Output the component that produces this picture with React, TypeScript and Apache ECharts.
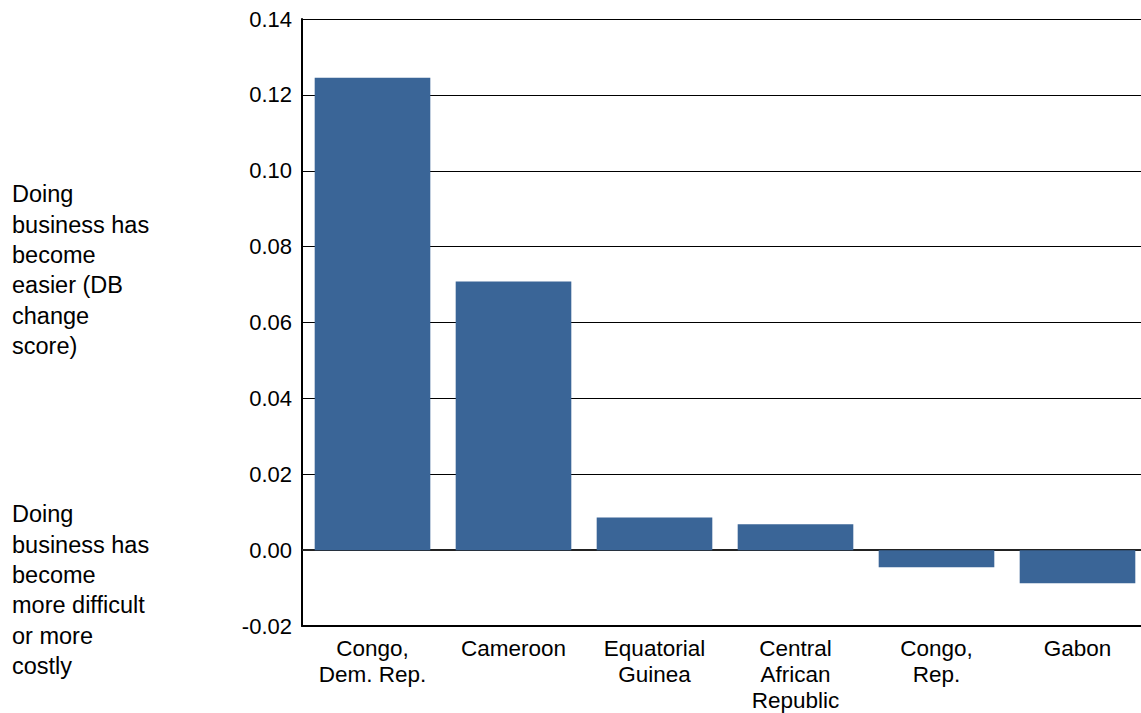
import React, { useEffect, useRef } from "react";
import * as echarts from "echarts";

const categories = [
  "Congo,\nDem. Rep.",
  "Cameroon",
  "Equatorial\nGuinea",
  "Central\nAfrican\nRepublic",
  "Congo,\nRep.",
  "Gabon",
];
const values = [0.1245, 0.0708, 0.0086, 0.0068, -0.0045, -0.0087];
const noteEasier = "Doing\nbusiness has\nbecome\neasier (DB\nchange\nscore)";
const noteHarder = "Doing\nbusiness has\nbecome\nmore difficult\nor more\ncostly";

const FONT = "'Liberation Sans', Arial, sans-serif";

export default function App() {
  const ref = useRef<HTMLDivElement>(null);
  useEffect(() => {
    if (!ref.current) return;
    const chart = echarts.init(ref.current, null, { renderer: "svg" });
    chart.setOption({
      animation: false,
      backgroundColor: "#fff",
      textStyle: { fontFamily: FONT },
      grid: { left: 302, right: 12, top: 19, bottom: 87, containLabel: false },
      xAxis: {
        type: "category",
        data: categories,
        axisLine: { onZero: false, lineStyle: { color: "#000", width: 2 } },
        axisTick: { show: false },
        axisLabel: {
          color: "#000",
          fontSize: 22.5,
          lineHeight: 26,
          margin: 9,
          fontFamily: FONT,
          interval: 0,
        },
      },
      yAxis: {
        type: "value",
        min: -0.02,
        max: 0.14,
        interval: 0.02,
        axisLine: { show: true, lineStyle: { color: "#000", width: 2 } },
        axisTick: { show: false },
        axisLabel: {
          color: "#000",
          fontSize: 22,
          margin: 10,
          fontFamily: FONT,
          formatter: (v: number) => v.toFixed(2),
        },
        splitLine: { show: true, lineStyle: { color: "#000", width: 1 } },
      },
      series: [
        {
          type: "bar",
          data: values,
          barCategoryGap: "18%",
          itemStyle: { color: "#3a6597" },
          markLine: {
            silent: true,
            symbol: "none",
            label: { show: false },
            lineStyle: { color: "#222", width: 2, type: "solid" },
            data: [{ yAxis: 0 }],
            z: 1,
          },
        },
      ],
      graphic: [
        {
          type: "text",
          left: 12,
          top: 179,
          style: {
            text: noteEasier,
            fontSize: 23.5,
            lineHeight: 30.4,
            fill: "#000",
            fontFamily: FONT,
          },
        },
        {
          type: "text",
          left: 12,
          top: 499,
          style: {
            text: noteHarder,
            fontSize: 23.5,
            lineHeight: 30.4,
            fill: "#000",
            fontFamily: FONT,
          },
        },
      ],
    });
    return () => chart.dispose();
  }, []);
  return (
    <div
      style={{
        position: "fixed",
        left: 0,
        top: 0,
        width: 1141,
        height: 713,
        overflow: "hidden",
      }}
    >
      <div ref={ref} style={{ width: 1160, height: 713 }} />
    </div>
  );
}
